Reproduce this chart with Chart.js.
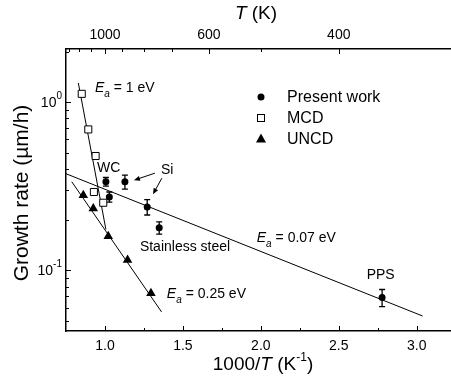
<!DOCTYPE html>
<html><head><meta charset="utf-8">
<script src="https://cdn.jsdelivr.net/npm/chart.js@4.4.1/dist/chart.umd.min.js"></script>
<style>html,body{margin:0;padding:0;background:#fff;}</style>
</head><body>
<canvas id="c" width="451" height="381"></canvas>
<script>
// ---- data (x = 1000/T in 1/K, y = growth rate in um/h) ----
const presentX = [1.006, 1.028, 1.128, 1.271, 1.348, 2.778];
const presentY = [0.336, 0.273, 0.336, 0.238, 0.179, 0.0688];
const presentErr = [0.02, 0.019, 0.032, 0.025, 0.015, 0.008];
const mcdX = [0.851, 0.893, 0.940, 0.929, 0.989];
const mcdY = [1.12, 0.688, 0.478, 0.292, 0.252];
const uncdX = [0.861, 0.925, 1.021, 1.145, 1.295];
const uncdY = [0.279, 0.233, 0.159, 0.115, 0.073];
const fit1X = [0.829, 1.006];
const fit1Y = [1.30, 0.175];
const fit007X = [0.75, 3.038];
const fit007Y = [0.375, 0.0534];
const fit025X = [0.787, 1.363];
const fit025Y = [0.336, 0.0565];
const seriesNames = ['Present work', 'MCD', 'UNCD'];
const xTickValues = [1.0, 1.5, 2.0, 2.5, 3.0];
const xMinorTicks = [1.25, 1.75, 2.25, 2.75];
const topTickT = [1000, 600, 400];
const topMinorT = [1300, 1200, 1100, 900, 800, 700, 500];
const yTickValues = [0.1, 1];
const yTickExp = ['-1', '0'];
const yMinorTicks = [0.05, 0.06, 0.07, 0.08, 0.09, 0.2, 0.3, 0.4, 0.5, 0.6, 0.7, 0.8, 0.9, 2];
// annotation anchors in data coordinates
const annWC = [0.949, 0.404];
const annSi = [1.359, 0.394];
const annSS = [1.224, 0.137];
const annPPS = [2.679, 0.0934];
const annEa1 = [0.936, 1.21];
const annEa007 = [1.974, 0.155];
const annEa025 = [1.397, 0.072];
const arrowSi1 = [[1.3205, 0.378], [1.186, 0.343]];
const arrowSi2 = [[1.365, 0.353], [1.308, 0.283]];

const FONT = "'Liberation Sans', Arial, Helvetica, sans-serif";
const pts = (xs, ys) => xs.map((x, i) => ({x: x, y: ys[i]}));

const decorPlugin = {
  id: 'decor',
  beforeDatasetsDraw(chart) {
    const ctx = chart.ctx, xs = chart.scales.x, ys = chart.scales.y;
    ctx.save();
    ctx.strokeStyle = '#000'; ctx.lineWidth = 1.3;
    presentX.forEach((x, i) => {
      const px = xs.getPixelForValue(x);
      const y1 = ys.getPixelForValue(presentY[i] + presentErr[i]);
      const y2 = ys.getPixelForValue(presentY[i] - presentErr[i]);
      ctx.beginPath();
      ctx.moveTo(px, y1); ctx.lineTo(px, y2);
      ctx.moveTo(px - 3, y1); ctx.lineTo(px + 3, y1);
      ctx.moveTo(px - 3, y2); ctx.lineTo(px + 3, y2);
      ctx.stroke();
    });
    ctx.restore();
  },
  afterDraw(chart) {
    const ctx = chart.ctx, xs = chart.scales.x, ys = chart.scales.y, ca = chart.chartArea;
    const X = v => xs.getPixelForValue(v), Y = v => ys.getPixelForValue(v);
    ctx.save();
    ctx.strokeStyle = '#000'; ctx.fillStyle = '#000'; ctx.lineWidth = 1;
    // inward tick marks
    ctx.beginPath();
    yTickValues.forEach(v => { const p = Math.round(Y(v)) + 0.5; ctx.moveTo(ca.left, p); ctx.lineTo(ca.left + 5, p); });
    yMinorTicks.forEach(v => { const p = Math.round(Y(v)) + 0.5; ctx.moveTo(ca.left, p); ctx.lineTo(ca.left + 3, p); });
    xTickValues.forEach(v => { const p = Math.round(X(v)) + 0.5; ctx.moveTo(p, ca.bottom); ctx.lineTo(p, ca.bottom - 5); });
    xMinorTicks.forEach(v => { const p = Math.round(X(v)) + 0.5; ctx.moveTo(p, ca.bottom); ctx.lineTo(p, ca.bottom - 3); });
    topTickT.forEach(T => { const p = Math.round(X(1000 / T)) + 0.5; ctx.moveTo(p, ca.top); ctx.lineTo(p, ca.top + 5); });
    topMinorT.forEach(T => { const p = Math.round(X(1000 / T)) + 0.5; ctx.moveTo(p, ca.top); ctx.lineTo(p, ca.top + 3); });
    ctx.stroke();

    // y tick labels 10^n
    ctx.textBaseline = 'middle';
    yTickValues.forEach((v, i) => {
      const p = Y(v);
      ctx.font = '10px ' + FONT;
      ctx.textAlign = 'right';
      const ew = ctx.measureText(yTickExp[i]).width;
      ctx.fillText(yTickExp[i], 62, p - 6);
      ctx.font = '14px ' + FONT;
      ctx.fillText('10', 62 - ew, p + 1);
    });

    // rich text helper
    function rich(parts, x, y, align) {
      let w = 0;
      parts.forEach(pt => { ctx.font = pt[1]; pt.w = ctx.measureText(pt[0]).width; w += pt.w; });
      let cx = align === 'center' ? x - w / 2 : x;
      ctx.textAlign = 'left';
      parts.forEach(pt => { ctx.font = pt[1]; ctx.fillText(pt[0], cx, y + (pt[2] || 0)); cx += pt.w; });
    }
    ctx.textBaseline = 'middle';
    // axis titles
    rich([['T', 'italic 19px ' + FONT], [' (K)', '19px ' + FONT]], 256, 14, 'center');
    rich([['1000/', '19px ' + FONT], ['T', 'italic 19px ' + FONT], [' (K', '19px ' + FONT], ['-1', '12px ' + FONT, -7], [')', '19px ' + FONT]], 263, 365, 'center');
    ctx.save();
    ctx.translate(22, 193);
    ctx.rotate(-Math.PI / 2);
    ctx.textAlign = 'center';
    ctx.font = '21px ' + FONT;
    ctx.fillText('Growth rate (\u00b5m/h)', 0, 0);
    ctx.restore();

    // annotations
    const ea = (val, a) => rich([['E', 'italic 14px ' + FONT], ['a', 'italic 10px ' + FONT, 6], [' = ' + val, '14px ' + FONT]], X(a[0]), Y(a[1]), 'left');
    ea('1 eV', annEa1);
    ea('0.07 eV', annEa007);
    ea('0.25 eV', annEa025);
    ctx.font = '14px ' + FONT; ctx.textAlign = 'left';
    ctx.fillText('WC', X(annWC[0]), Y(annWC[1]));
    ctx.fillText('Si', X(annSi[0]), Y(annSi[1]));
    ctx.fillText('Stainless steel', X(annSS[0]), Y(annSS[1]));
    ctx.fillText('PPS', X(annPPS[0]), Y(annPPS[1]));
    // arrows
    [arrowSi1, arrowSi2].forEach(a => {
      const x1 = X(a[0][0]), y1 = Y(a[0][1]), x2 = X(a[1][0]), y2 = Y(a[1][1]);
      const ang = Math.atan2(y2 - y1, x2 - x1), L = 6, W = 2.5;
      ctx.beginPath(); ctx.moveTo(x1, y1); ctx.lineTo(x2 - Math.cos(ang) * L * 0.8, y2 - Math.sin(ang) * L * 0.8); ctx.stroke();
      ctx.beginPath();
      ctx.moveTo(x2, y2);
      ctx.lineTo(x2 - L * Math.cos(ang) + W * Math.sin(ang), y2 - L * Math.sin(ang) - W * Math.cos(ang));
      ctx.lineTo(x2 - L * Math.cos(ang) - W * Math.sin(ang), y2 - L * Math.sin(ang) + W * Math.cos(ang));
      ctx.closePath(); ctx.fill();
    });

    // legend
    const lx = 261, rows = [97, 118, 139];
    ctx.lineWidth = 1;
    ctx.beginPath(); ctx.arc(lx, rows[0], 3.5, 0, Math.PI * 2); ctx.fill();
    ctx.fillStyle = '#fff'; ctx.fillRect(lx - 3.5, rows[1] - 3.5, 7, 7);
    ctx.strokeRect(lx - 3.5, rows[1] - 3.5, 7, 7);
    ctx.fillStyle = '#000';
    ctx.beginPath(); ctx.moveTo(lx, rows[2] - 5.5); ctx.lineTo(lx + 5, rows[2] + 3.5); ctx.lineTo(lx - 5, rows[2] + 3.5); ctx.closePath(); ctx.fill();
    ctx.font = '16px ' + FONT; ctx.textAlign = 'left'; ctx.textBaseline = 'middle';
    seriesNames.forEach((n, i) => ctx.fillText(n, 287, rows[i] + 1));
    ctx.restore();
  }
};

const lineDs = (xs, ys) => ({data: pts(xs, ys), showLine: true, borderColor: '#000', borderWidth: 1, pointRadius: 0, fill: false});

new Chart(document.getElementById('c'), {
  type: 'scatter',
  data: {
    datasets: [
      {label: seriesNames[0], data: pts(presentX, presentY), pointStyle: 'circle', pointRadius: 3.5, backgroundColor: '#000', borderColor: '#000', borderWidth: 0},
      {label: seriesNames[1], data: pts(mcdX, mcdY), pointStyle: 'rect', pointRadius: 5, backgroundColor: '#fff', borderColor: '#000', borderWidth: 1},
      {label: seriesNames[2], data: pts(uncdX, uncdY), pointStyle: 'triangle', pointRadius: 5.5, backgroundColor: '#000', borderColor: '#000', borderWidth: 0},
      lineDs(fit1X, fit1Y),
      lineDs(fit007X, fit007Y),
      lineDs(fit025X, fit025Y)
    ]
  },
  options: {
    responsive: false,
    animation: false,
    devicePixelRatio: 1,
    layout: {padding: 0, autoPadding: false},
    plugins: {legend: {display: false}, tooltip: {enabled: false}},
    scales: {
      x: {
        type: 'linear', position: 'bottom', min: 0.75, max: 3.22,
        afterBuildTicks: s => { s.ticks = xTickValues.map(v => ({value: v})); },
        ticks: {display: true, autoSkip: false, maxRotation: 0, padding: 7, color: '#000', font: {family: FONT, size: 14}, callback: v => Number(v).toFixed(1)},
        grid: {display: false, drawTicks: false},
        border: {display: true, color: '#000', width: 1.5},
        afterFit: s => { s.height = 50; }
      },
      x2: {
        type: 'linear', position: 'top', min: 0.75, max: 3.22,
        afterBuildTicks: s => { s.ticks = topTickT.map(T => ({value: 1000 / T})); },
        ticks: {display: true, autoSkip: false, maxRotation: 0, padding: 5, color: '#000', font: {family: FONT, size: 14}, callback: (v, i) => String(topTickT[i])},
        grid: {display: false, drawTicks: false},
        border: {display: true, color: '#000', width: 1.5},
        afterFit: s => { s.height = 49; }
      },
      y: {
        type: 'logarithmic', position: 'left', min: 0.0435, max: 2.07,
        ticks: {display: false},
        grid: {display: false, drawTicks: false},
        border: {display: true, color: '#000', width: 1.5},
        afterFit: s => { s.width = 66; }
      }
    }
  },
  plugins: [decorPlugin]
});
</script>
</body></html>
